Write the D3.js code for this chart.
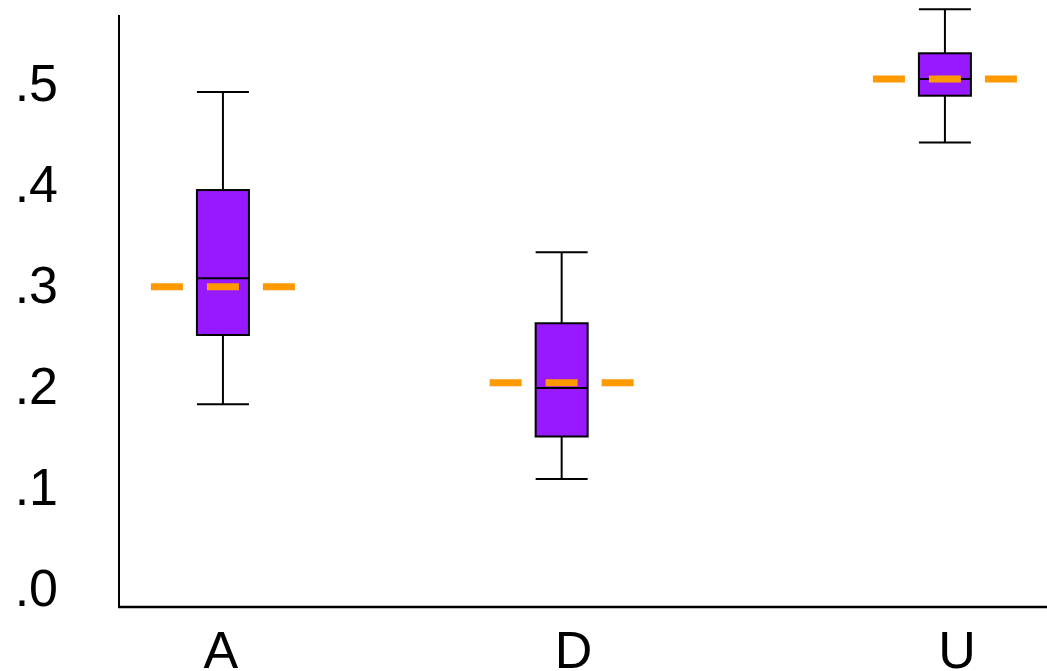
<!DOCTYPE html>
<html lang="en">
  <head>
    <meta charset="utf-8">
    <title>boxes</title>
    <script src="https://cdn.jsdelivr.net/npm/d3@7"></script>
    <style type="text/css">
      body { margin: 0; background: #fff; }
      .tickLabel {
        font-family: "Liberation Sans", Arial, sans-serif;
        font-size: 52px;
        fill: #000;
      }
      .box {
        fill: #9919ff;
        stroke: #000;
        stroke-width: 2;
      }
      .whisker, .cap, .median {
        stroke: #000;
        stroke-width: 2;
      }
      .mean {
        stroke: #ff9900;
        stroke-width: 7;
        stroke-dasharray: 32 24;
      }
    </style>
  </head>
  <body>
    <svg id="chart" width="1047" height="671"></svg>
    <script type="text/javascript">
      // groups and where they sit along the x axis (0..1)
      var groups = ["A", "D", "U"];
      var groupPos = [0.112, 0.477, 0.89];

      // box statistics
      var whiskerLow = [0.182, 0.108, 0.441];
      var q1 = [0.2505, 0.150, 0.4874];
      var median = [0.3066, 0.198, 0.504];
      var q3 = [0.394, 0.2621, 0.5294];
      var whiskerHigh = [0.491, 0.3324, 0.573];
      var mean = [0.2983, 0.2033, 0.504];

      var yTicks = [0, 0.1, 0.2, 0.3, 0.4, 0.5];
      var yTickLabels = [".0", ".1", ".2", ".3", ".4", ".5"];

      var svg = d3.select("#chart"),
        margin = {top: 15, right: 0, bottom: 64, left: 119},
        width = +svg.attr("width") - margin.left - margin.right,
        height = +svg.attr("height") - margin.top - margin.bottom,
        boxWidth = 52,
        meanLen = 144;

      var data = groups.map(function(g, i) {
        return {name: g, pos: groupPos[i], lo: whiskerLow[i], q1: q1[i],
          med: median[i], q3: q3[i], hi: whiskerHigh[i], mean: mean[i]};
      });

      var x = d3.scaleLinear().domain([0, 1]).range([0, width]);
      var y = d3.scaleLinear().domain([-0.0188, 0.5673]).range([height, 0]);

      var g = svg.append("g")
        .attr("transform", "translate(" + margin.left + "," + margin.top + ")");

      // axes: plain lines, big labels, no tick marks
      g.append("line")
        .attr("x1", 0).attr("x2", 0)
        .attr("y1", 0).attr("y2", height)
        .attr("stroke", "#000").attr("stroke-width", 2);
      g.append("line")
        .attr("x1", -1).attr("x2", width)
        .attr("y1", height).attr("y2", height)
        .attr("stroke", "#000").attr("stroke-width", 2.5);

      g.selectAll(".ylab")
        .data(yTicks)
        .enter().append("text")
        .attr("class", "tickLabel")
        .attr("x", -61)
        .attr("y", function(d) { return y(d); })
        .attr("dy", "0.34em")
        .style("text-anchor", "end")
        .text(function(d, i) { return yTickLabels[i]; });

      g.selectAll(".xlab")
        .data(data)
        .enter().append("text")
        .attr("class", "tickLabel")
        .attr("x", function(d) { return x(d.pos) + (d.name === "A" ? -2 : 12); })
        .attr("y", height + 61)
        .style("text-anchor", "middle")
        .text(function(d) { return d.name; });

      var box = g.selectAll(".group")
        .data(data)
        .enter().append("g")
        .attr("class", "group");

      // whiskers
      box.append("line")
        .attr("class", "whisker")
        .attr("x1", function(d) { return x(d.pos); })
        .attr("x2", function(d) { return x(d.pos); })
        .attr("y1", function(d) { return y(d.hi); })
        .attr("y2", function(d) { return y(d.lo); });

      box.selectAll(".cap")
        .data(function(d) { return [{pos: d.pos, v: d.hi}, {pos: d.pos, v: d.lo}]; })
        .enter().append("line")
        .attr("class", "cap")
        .attr("x1", function(d) { return x(d.pos) - boxWidth / 2; })
        .attr("x2", function(d) { return x(d.pos) + boxWidth / 2; })
        .attr("y1", function(d) { return y(d.v); })
        .attr("y2", function(d) { return y(d.v); });

      box.append("rect")
        .attr("class", "box")
        .attr("x", function(d) { return x(d.pos) - boxWidth / 2; })
        .attr("width", boxWidth)
        .attr("y", function(d) { return y(d.q3); })
        .attr("height", function(d) { return y(d.q1) - y(d.q3); });

      box.append("line")
        .attr("class", "median")
        .attr("x1", function(d) { return x(d.pos) - boxWidth / 2; })
        .attr("x2", function(d) { return x(d.pos) + boxWidth / 2; })
        .attr("y1", function(d) { return y(d.med); })
        .attr("y2", function(d) { return y(d.med); });

      // mean as dashed orange bar across the box
      box.append("line")
        .attr("class", "mean")
        .attr("x1", function(d) { return x(d.pos) - meanLen / 2; })
        .attr("x2", function(d) { return x(d.pos) + meanLen / 2; })
        .attr("y1", function(d) { return y(d.mean); })
        .attr("y2", function(d) { return y(d.mean); });
    </script>
  </body>
</html>
